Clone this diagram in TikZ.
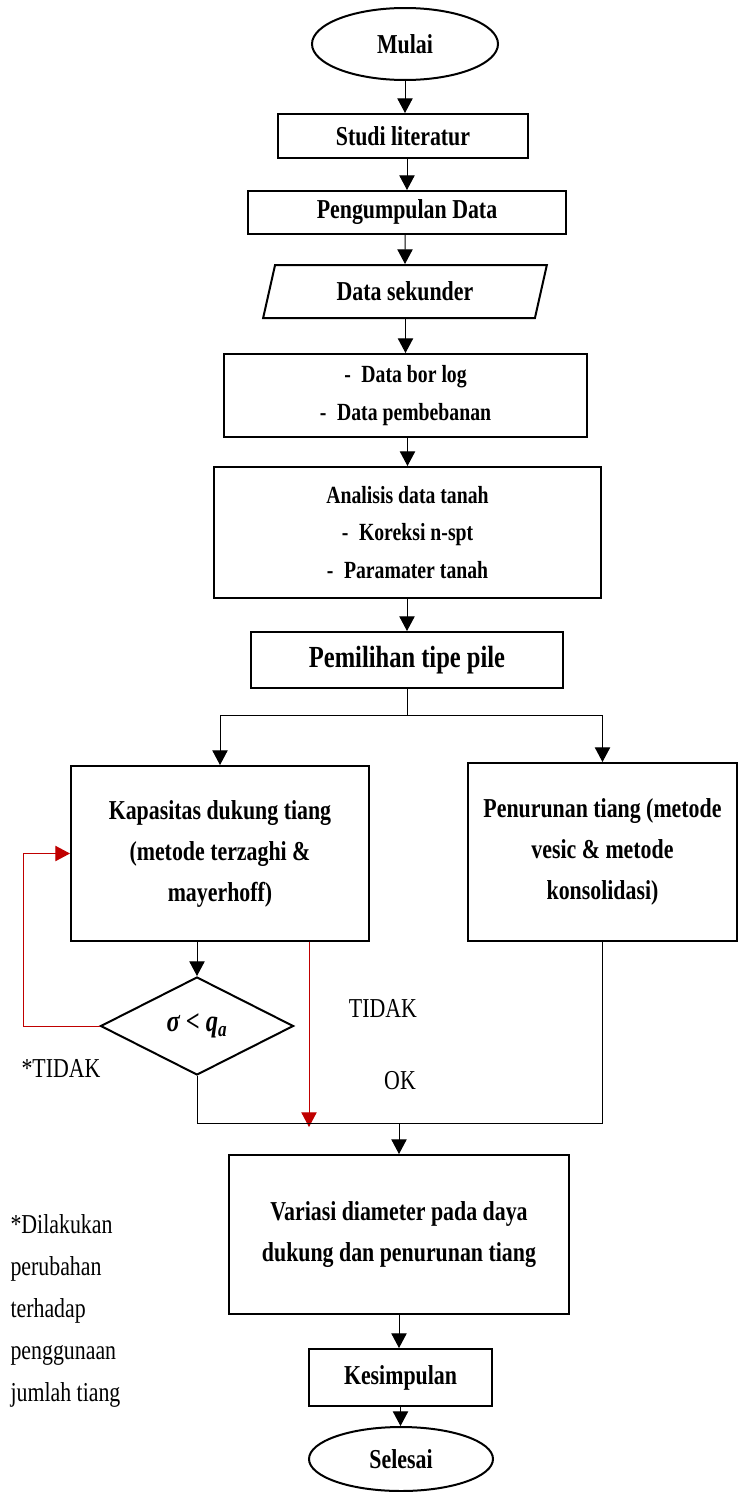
\documentclass[tikz,border=0pt]{standalone}
\usepackage{fontspec}
\setmainfont{Liberation Serif}[FakeStretch=0.8]
\usetikzlibrary{arrows.meta,shapes.geometric}
\definecolor{loopred}{RGB}{192,0,0}

\tikzset{every picture/.style={line width=0.75pt}}
\tikzset{
  boxsize/.style 2 args={minimum width=#1*0.75pt, minimum height=#2*0.75pt},
  stepbox/.style={draw, line width=1.5pt, inner sep=0pt, align=center, font=\fontsize{20.5}{30.75}\selectfont\bfseries},
  listbox/.style={stepbox, font=\fontsize{18.5}{28}\selectfont\bfseries},
  termbox/.style={stepbox, ellipse},
  iobox/.style={stepbox, trapezium, trapezium left angle=72, trapezium right angle=108, trapezium stretches=true},
  decbox/.style={stepbox, diamond, font=\fontsize{23}{28}\selectfont\bfseries},
  note/.style={inner sep=0pt, font=\fontsize{20.5}{31.5}\selectfont},
  arr/.style={-{Triangle[length=11pt,width=11.5pt]}},
  redarr/.style={arr, draw=loopred}
}

\begin{document}
\begin{tikzpicture}[x=0.75pt,y=0.75pt,yscale=-1]
\useasboundingbox (0,0) rectangle (739,1492);
%Shape: Ellipse [id:mulai]
\node (mulai) [termbox, boxsize={186}{72}] at (405,44) {Mulai};
%Shape: Rectangle [id:studi]
\node (studi) [stepbox, boxsize={250}{44}] at (403,136) {Studi literatur};
%Shape: Rectangle [id:kumpul]
\node (kumpul) [stepbox, boxsize={318}{43}] at (407,212.5) {Pengumpulan Data};
%Shape: Parallelogram [id:sekunder]
\node (sekunder) [iobox, boxsize={284}{53}] at (405,291.5) {Data sekunder};
%Shape: Rectangle [id:borlog]
\node (borlog) [listbox, boxsize={363}{83}] at (405.5,395.5) {-\hspace{8pt}Data bor log\\-\hspace{8pt}Data pembebanan};
%Shape: Rectangle [id:analisis]
\node (analisis) [listbox, boxsize={387}{131}] at (407.5,532.5) {Analisis data tanah\\-\hspace{8pt}Koreksi n-spt\\-\hspace{8pt}Paramater tanah};
%Shape: Rectangle [id:pilih]
\node (pilih) [stepbox, boxsize={312}{56}, font=\fontsize{23}{28}\selectfont\bfseries] at (407,660) {Pemilihan tipe pile};
%Shape: Rectangle [id:kapasitas]
\node (kapasitas) [stepbox, boxsize={298}{175}] at (220,853.5) {Kapasitas dukung tiang\\(metode terzaghi \&\\mayerhoff)};
%Shape: Rectangle [id:penurunan]
\node (penurunan) [stepbox, boxsize={269}{178}] at (602.5,852) {Penurunan tiang (metode\\vesic \& metode\\konsolidasi)};
%Shape: Diamond [id:cek]
\node (cek) [decbox, boxsize={193}{98}] at (197,1026) {\itshape σ < q\textsubscript{a}};
%Shape: Rectangle [id:variasi]
\node (variasi) [stepbox, boxsize={340}{159}] at (399,1234.5) {Variasi diameter pada daya\\dukung dan penurunan tiang};
%Shape: Rectangle [id:simpulan]
\node (simpulan) [stepbox, boxsize={183}{57}] at (400.5,1377.5) {Kesimpulan};
%Shape: Ellipse [id:selesai]
\node (selesai) [termbox, boxsize={184}{64}] at (401,1459) {Selesai};

% Text Node
\node (tidak) [note] at (383,1008) {TIDAK};
% Text Node
\node (ok) [note] at (400,1081) {OK};
% Text Node
\node (tidakloop) [note] at (61,1068) {*TIDAK};
% Text Node
\node (catatan) [note, anchor=west, align=left] at (10,1311) {*Dilakukan\\perubahan\\terhadap\\penggunaan\\jumlah tiang};

\coordinate (split) at (407,715);
\coordinate (loop) at (23,853.5);
\coordinate (tidakend) at (309,1127);
\coordinate (merge) at (399,1123);

%Straight Lines
\draw [arr] (mulai) -- (mulai |- studi.north);
\draw [arr] (studi.south -| kumpul) -- (kumpul.north);
\draw [arr] (kumpul.south -| sekunder) -- (sekunder.north);
\draw [arr] (sekunder.south -| borlog) -- (borlog.north);
\draw [arr] (borlog.south -| analisis) -- (analisis.north);
\draw [arr] (analisis.south -| pilih) -- (pilih.north);
\draw (pilih.south) -- (split);
\draw [arr] (split) -| (kapasitas.north);
\draw [arr] (split) -| (penurunan.north);
\draw [arr] (kapasitas.south -| cek) -- (cek.north);
%Red loop
\draw [redarr] (cek.west) -| (loop) -- (kapasitas.west);
\draw [redarr] (kapasitas.south -| tidakend) -- (tidakend);
%Merge lines
\draw (cek.south) |- (merge) -| (penurunan.south);
\draw [arr] (merge) -- (variasi.north);
\draw [arr] (variasi) -- (variasi |- simpulan.north);
\draw [arr] (simpulan) -- (simpulan |- selesai.north);

\end{tikzpicture}
\end{document}
